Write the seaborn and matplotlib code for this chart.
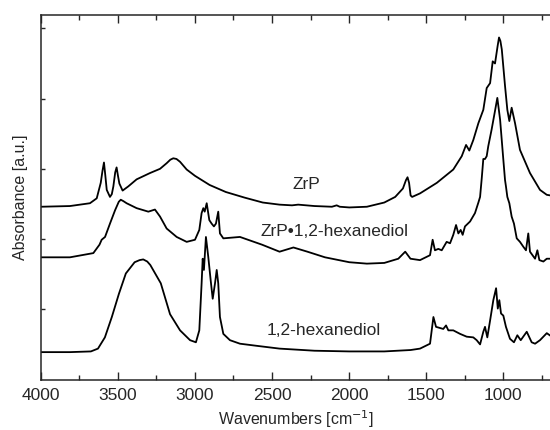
import matplotlib
matplotlib.use("Agg")
import matplotlib.pyplot as plt
from matplotlib.ticker import MultipleLocator
import seaborn as sns
import pandas as pd

# wavenumbers [cm-1] and absorbance (arbitrary units, offset per trace)
zrp_wn = [4000, 3812, 3682, 3638, 3612, 3600, 3591, 3582, 3573, 3552, 3540, 3530, 3518, 3509,
          3500, 3491, 3470, 3433, 3379, 3292, 3227, 3184, 3160, 3141, 3120, 3097, 3054, 3000,
          2905, 2800, 2678, 2560, 2451, 2370, 2330, 2224, 2111, 2080, 2060, 1998, 1884, 1771,
          1700, 1650, 1630, 1620, 1610, 1600, 1590, 1539, 1430, 1323, 1268, 1240, 1219, 1193,
          1160, 1128, 1106, 1084, 1067, 1052, 1035, 1026, 1017, 1008, 987, 972, 959, 944, 922,
          890, 825, 760, 716, 690]
zrp_abs = [2.46, 2.47, 2.51, 2.58, 2.80, 2.98, 3.09, 2.90, 2.70, 2.60, 2.64, 2.75, 2.95, 3.02,
           2.90, 2.79, 2.69, 2.75, 2.85, 2.94, 3.00, 3.08, 3.13, 3.15, 3.14, 3.10, 2.99, 2.90,
           2.77, 2.67, 2.59, 2.52, 2.49, 2.48, 2.49, 2.47, 2.46, 2.48, 2.46, 2.45, 2.46, 2.52,
           2.60, 2.72, 2.84, 2.88, 2.80, 2.62, 2.60, 2.65, 2.80, 2.99, 3.18, 3.34, 3.26, 3.41,
           3.65, 3.84, 4.15, 4.22, 4.53, 4.50, 4.75, 4.87, 4.82, 4.70, 4.18, 3.84, 3.68, 3.87,
           3.65, 3.27, 2.94, 2.70, 2.63, 2.62]

mix_wn = [4000, 3812, 3660, 3620, 3606, 3584, 3552, 3519, 3495, 3482, 3465, 3444, 3379, 3303,
          3260, 3227, 3184, 3119, 3054, 3000, 2972, 2957, 2946, 2937, 2924, 2907, 2892, 2877,
          2864, 2849, 2838, 2816, 2708, 2565, 2451, 2361, 2270, 2156, 1998, 1884, 1771, 1680,
          1635, 1601, 1539, 1474, 1457, 1442, 1420, 1398, 1366, 1344, 1323, 1305, 1290, 1275,
          1262, 1247, 1214, 1182, 1160, 1149, 1138, 1128, 1117, 1106, 1096, 1074, 1050, 1037,
          1019, 998, 987, 981, 972, 959, 944, 929, 911, 890, 868, 851, 836, 825, 792, 777, 764,
          738, 716, 690]
mix_abs = [1.74, 1.74, 1.80, 1.92, 1.99, 2.03, 2.22, 2.41, 2.53, 2.56, 2.54, 2.51, 2.44, 2.39,
           2.42, 2.32, 2.15, 2.03, 1.96, 1.99, 2.13, 2.37, 2.44, 2.39, 2.51, 2.27, 2.22, 2.18,
           2.22, 2.39, 2.08, 2.01, 2.03, 1.92, 1.82, 1.88, 1.82, 1.74, 1.67, 1.65, 1.66, 1.72,
           1.82, 1.72, 1.70, 1.77, 1.99, 1.84, 1.86, 1.84, 1.96, 1.94, 2.06, 2.20, 2.08, 2.13,
           2.06, 2.18, 2.25, 2.37, 2.52, 2.60, 2.87, 3.14, 3.14, 3.18, 3.32, 3.56, 3.85, 4.01,
           3.70, 3.13, 2.84, 2.75, 2.60, 2.51, 2.32, 2.22, 2.01, 1.96, 1.89, 1.84, 2.08, 1.82,
           1.72, 1.84, 1.70, 1.68, 1.72, 1.72]

diol_wn = [4000, 3812, 3676, 3630, 3585, 3540, 3494, 3449, 3392, 3360, 3336, 3310, 3290, 3222,
           3162, 3097, 3032, 2994, 2972, 2957, 2950, 2942, 2929, 2914, 2898, 2885, 2870, 2859,
           2849, 2838, 2816, 2773, 2708, 2600, 2451, 2224, 1998, 1771, 1600, 1539, 1474, 1452,
           1435, 1388, 1370, 1355, 1323, 1279, 1236, 1193, 1171, 1149, 1128, 1117, 1102, 1084,
           1063, 1045, 1034, 1024, 1013, 998, 981, 955, 929, 907, 885, 846, 814, 792, 760, 716,
           690]
diol_abs = [0.39, 0.39, 0.40, 0.44, 0.60, 0.89, 1.22, 1.51, 1.67, 1.70, 1.71, 1.68, 1.63, 1.37,
            0.93, 0.70, 0.56, 0.53, 0.70, 1.37, 1.72, 1.56, 2.03, 1.75, 1.41, 1.15, 1.37, 1.56,
            1.37, 0.89, 0.65, 0.56, 0.51, 0.48, 0.44, 0.41, 0.40, 0.40, 0.42, 0.44, 0.51, 0.89,
            0.75, 0.72, 0.77, 0.70, 0.70, 0.65, 0.61, 0.60, 0.56, 0.50, 0.68, 0.75, 0.60, 0.84,
            1.13, 1.30, 1.01, 1.13, 0.94, 0.91, 0.75, 0.58, 0.53, 0.63, 0.56, 0.68, 0.53, 0.51,
            0.56, 0.66, 0.62]

labels = ["ZrP", "ZrP\u20221,2-hexanediol", "1,2-hexanediol"]
label_wn = [2275, 2091, 2162]
label_abs = [2.77, 2.11, 0.70]

sns.set_theme(style="ticks")
plt.rcParams["font.family"] = ["Liberation Sans", "DejaVu Sans"]

fig = plt.figure(figsize=(5.5, 4.3), dpi=100)
ax = fig.add_axes([0.0745, 0.1174, 0.9255, 0.8477])

for wn, ab in [(zrp_wn, zrp_abs), (mix_wn, mix_abs), (diol_wn, diol_abs)]:
    df = pd.DataFrame({"wn": wn, "abs": ab})
    sns.lineplot(data=df, x="wn", y="abs", ax=ax, color="black", linewidth=1.3,
                 sort=False, estimator=None)

for txt, x, y in zip(labels, label_wn, label_abs):
    ax.text(x, y, txt, ha="center", va="center", fontsize=12.5)

ax.set_xlim(4000, 695)
ax.set_ylim(0, 5.19)
ax.set_xticks([4000, 3500, 3000, 2500, 2000, 1500, 1000])
ax.xaxis.set_minor_locator(MultipleLocator(250))
ax.set_yticks([1, 2, 3, 4, 5])
ax.set_yticklabels([])
ax.tick_params(axis="x", which="major", direction="in", top=True, length=6, width=1,
               labelsize=12.5, pad=6)
ax.tick_params(axis="x", which="minor", direction="in", top=True, length=3.5, width=1)
ax.tick_params(axis="y", direction="in", length=3, width=1)
for s in ax.spines.values():
    s.set_linewidth(1.1)
ax.spines["right"].set_visible(False)
ax.set_xlabel("Wavenumbers [cm$^{-1}$]", fontsize=11.5, labelpad=4)
ax.set_ylabel("Absorbance [a.u.]", fontsize=11.5, labelpad=6)

fig.savefig("out.png", dpi=100)
